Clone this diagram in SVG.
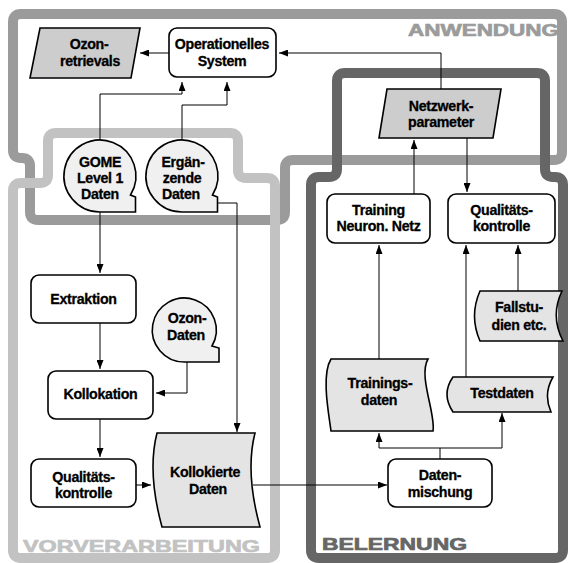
<svg xmlns="http://www.w3.org/2000/svg" width="568" height="563" viewBox="0 0 568 563">
<style>
.reg{fill:none;stroke-width:10;stroke-linejoin:round}
.lab{font-family:"Liberation Sans",Arial,Helvetica,sans-serif;font-weight:bold;font-size:17px;stroke-width:0.7px}
.box{fill:#fff;stroke:#000;stroke-width:1.6}
.par{fill:#cdcdcd;stroke:#000;stroke-width:1.6}
.tape{fill:#e4e4e4;stroke:#000;stroke-width:1.6}
.bub{fill:#f0f0f0;stroke:#000;stroke-width:1.6}
.t{font-family:"Liberation Sans",Arial,Helvetica,sans-serif;font-weight:bold;font-size:14.2px;letter-spacing:-0.3px;text-anchor:middle;fill:#000;stroke:#000;stroke-width:0.3px}
.c{fill:none;stroke:#000;stroke-width:1}
</style>
<defs>
<marker id="ah" markerUnits="userSpaceOnUse" markerWidth="9" markerHeight="7" refX="9" refY="3.5" orient="auto">
<path d="M0,0 L9,3.5 L0,7 Z" fill="#000"/>
</marker>
</defs>
<rect width="568" height="563" fill="#fff"/>
<g id="regions">
<path id="anwendung" class="reg" stroke="#9b9b9b" d="M13,150 V22 Q13,14 21,14 H554 Q562,14 562,22 V152 Q562,160 554,160 H293 Q285,160 285,168 V212 Q285,220 277,220 H38 Q30,220 30,212 V166 Q30,158 22,158 H21 Q13,158 13,150 Z"/>
<path id="vorverarbeitung" class="reg" stroke="#c2c2c2" d="M48,141 Q48,133 56,133 H230 Q238,133 238,141 V170 Q238,178 246,178 H267 Q275,178 275,186 V550 Q275,558 267,558 H21 Q13,558 13,550 V191 Q13,183 21,183 H40 Q48,183 48,175 Z"/>
<path id="belernung" class="reg" stroke="#666" d="M337,81 Q337,73 345,73 H537 Q545,73 545,81 V169 Q545,177 553,177 H555 Q563,177 563,185 V550 Q563,558 555,558 H319 Q311,558 311,550 V185 Q311,177 319,177 H329 Q337,177 337,169 Z"/>
<text class="lab" x="408" y="36" fill="#9b9b9b" stroke="#9b9b9b" textLength="151" lengthAdjust="spacingAndGlyphs">ANWENDUNG</text>
<text class="lab" x="23" y="552" fill="#c2c2c2" stroke="#c2c2c2" textLength="237" lengthAdjust="spacingAndGlyphs">VORVERARBEITUNG</text>
<text class="lab" x="322" y="550" fill="#666" stroke="#666" textLength="145" lengthAdjust="spacingAndGlyphs">BELERNUNG</text>
</g>
<g id="connectors">
<path class="c" marker-end="url(#ah)" d="M169,53 H140"/>
<path class="c" marker-end="url(#ah)" d="M441,89 V53 H279"/>
<path class="c" marker-end="url(#ah)" d="M100,140 V94 H182 V82"/>
<path class="c" marker-end="url(#ah)" d="M182,140 V105 H227 V82"/>
<path class="c" marker-end="url(#ah)" d="M100,212 V273"/>
<path class="c" marker-end="url(#ah)" d="M218,203 H237 V432"/>
<path class="c" marker-end="url(#ah)" d="M100,323 V369"/>
<path class="c" marker-end="url(#ah)" d="M187,362 V393 H156"/>
<path class="c" marker-end="url(#ah)" d="M100,419 V457"/>
<path class="c" marker-end="url(#ah)" d="M136,485 H151"/>
<path class="c" marker-end="url(#ah)" d="M253,485 H387"/>
<path class="c" marker-end="url(#ah)" d="M440,459 V448 H379 V433"/>
<path class="c" marker-end="url(#ah)" d="M440,448 H502 V413"/>
<path class="c" marker-end="url(#ah)" d="M379,359 V245"/>
<path class="c" marker-end="url(#ah)" d="M466,377 V245"/>
<path class="c" marker-end="url(#ah)" d="M518,291 V245"/>
<path class="c" marker-end="url(#ah)" d="M414,194 V140"/>
<path class="c" marker-end="url(#ah)" d="M467,138 V192"/>
</g>
<g id="ozonretrievals">
<path class="par" d="M40,28 H140 L131,78 H30 Z"/>
<text class="t" x="89" y="49">Ozon-</text>
<text class="t" x="90" y="66">retrievals</text>
</g>
<g id="operationelles">
<rect class="box" x="169" y="28" width="107" height="49" rx="8"/>
<text class="t" x="222" y="49">Operationelles</text>
<text class="t" x="222" y="65.5">System</text>
</g>
<g id="netzwerkparameter">
<path class="par" d="M387,89 H501 L493,138 H379 Z"/>
<text class="t" x="441" y="111">Netzwerk-</text>
<text class="t" x="441" y="127">parameter</text>
</g>
<g id="gome">
<path class="bub" d="M100,212 A36,36 0 1 1 130.5,195 L135.5,197 V212 Z"/>
<text class="t" x="100" y="166.5">GOME</text>
<text class="t" x="100" y="182.5">Level 1</text>
<text class="t" x="100" y="198.5">Daten</text>
</g>
<g id="ergaenzende">
<path class="bub" d="M182,212 A36,36 0 1 1 212.5,195 L217.5,197 V212 Z"/>
<text class="t" x="183" y="166.5">Ergän-</text>
<text class="t" x="182" y="182.5">zende</text>
<text class="t" x="181" y="198.5">Daten</text>
</g>
<g id="extraktion">
<rect class="box" x="31" y="275" width="105" height="48" rx="8"/>
<text class="t" x="83.5" y="303.5">Extraktion</text>
</g>
<g id="ozondaten">
<path class="bub" d="M184.5,362 A32,32 0 1 1 212,346 L219,348 V362 Z"/>
<text class="t" x="187" y="323">Ozon-</text>
<text class="t" x="186" y="339.5">Daten</text>
</g>
<g id="kollokation">
<rect class="box" x="48" y="371" width="105" height="48" rx="8"/>
<text class="t" x="100.5" y="398.5">Kollokation</text>
</g>
<g id="qualitaetskontrolle1">
<rect class="box" x="31" y="459" width="105" height="48" rx="8"/>
<text class="t" x="83.5" y="481.5">Qualitäts-</text>
<text class="t" x="83.5" y="497.5">kontrolle</text>
</g>
<g id="kollokiertedaten">
<path class="tape" d="M157,433 H255 Q245,472 260,527 H162 Q147,472 157,433 Z"/>
<text class="t" x="205" y="477">Kollokierte</text>
<text class="t" x="208" y="494">Daten</text>
</g>
<g id="training">
<rect class="box" x="327" y="194" width="103" height="49" rx="8"/>
<text class="t" x="378.5" y="214.5">Training</text>
<text class="t" x="378.5" y="231">Neuron. Netz</text>
</g>
<g id="qualitaetskontrolle2">
<rect class="box" x="448" y="194" width="107" height="49" rx="8"/>
<text class="t" x="501.5" y="214.5">Qualitäts-</text>
<text class="t" x="501.5" y="231">kontrolle</text>
</g>
<g id="fallstudien">
<path class="tape" d="M480,291 H562 Q550,316 563,341 H480 Q469,316 480,291 Z"/>
<text class="t" x="519" y="312">Fallstu-</text>
<text class="t" x="519" y="329.5">dien etc.</text>
</g>
<g id="trainingsdaten">
<path class="tape" d="M331,359 H428 C418,376 436,414 433,431 H331 C329,415 321,375 331,359 Z"/>
<text class="t" x="380" y="387.5">Trainings-</text>
<text class="t" x="379" y="405">daten</text>
</g>
<g id="testdaten">
<path class="tape" d="M453,377 H553 Q543,394 551,412 H453 Q441,394 453,377 Z"/>
<text class="t" x="502" y="397.5">Testdaten</text>
</g>
<g id="datenmischung">
<rect class="box" x="388" y="459" width="104" height="48" rx="8"/>
<text class="t" x="440" y="479.5">Daten-</text>
<text class="t" x="440" y="496.5">mischung</text>
</g>
</svg>
